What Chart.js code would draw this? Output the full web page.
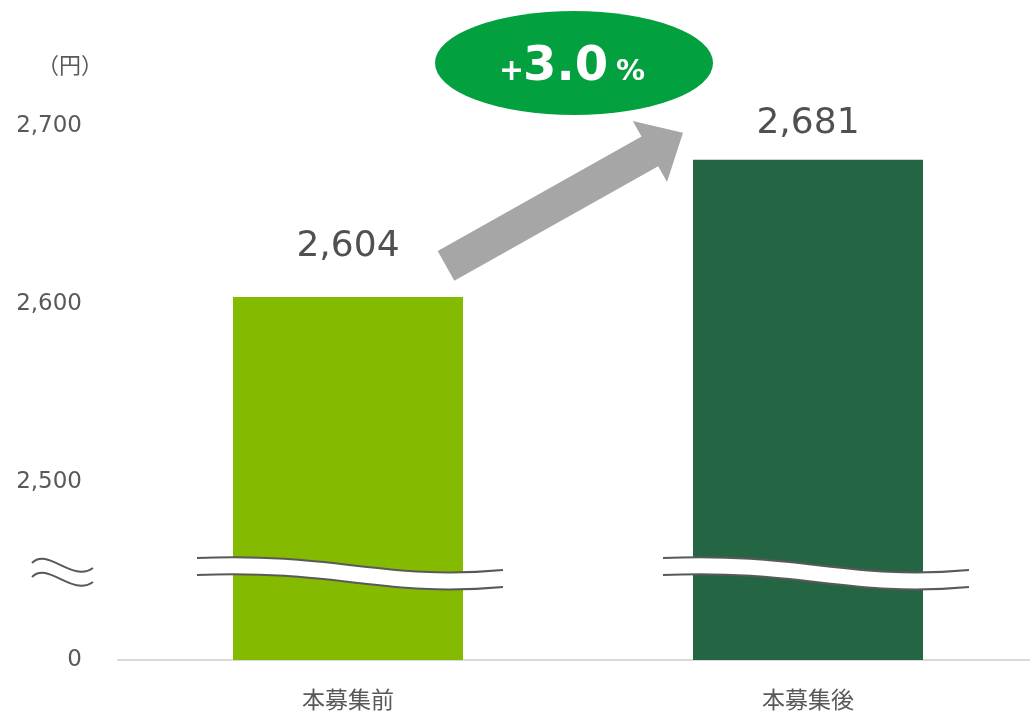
<!DOCTYPE html>
<html>
<head>
<meta charset="utf-8">
<script src="https://cdn.jsdelivr.net/npm/chart.js@4.4.1/dist/chart.umd.min.js"></script>
<style>
  html, body { margin: 0; padding: 0; background: #fff; overflow: hidden; }
  #wrap { width: 1040px; height: 711px; }
</style>
</head>
<body>
<div id="wrap"><canvas id="priceChart"></canvas></div>
<script>
// ---- data ----
const categories = ["本募集前", "本募集後"];
const prices     = [2604, 2681];
const barColors  = ["#84bb00", "#246543"];
const tickValues = [2400, 2500, 2600, 2700];   // 2400 stands in for 0 (broken axis)
const tickLabels = ["0", "2,500", "2,600", "2,700"];
const unitLabel  = "（円）";

const FONT = "'DejaVu Sans', 'Noto Sans CJK JP', sans-serif";
const TEXT = "#595959";
const BREAK_AT = 2450;          // value where the axis break is drawn
const labelLift = [41, 27];     // value label distance above bar top
const breakLeft = [151, 145];   // how far the break band starts left of bar centre

/* axis-break marks, arrow, growth badge, value labels */
const decorPlugin = {
    id: "decor",
    afterDatasetsDraw(chart) {
        const ctx = chart.ctx;
        const y = chart.scales.y;
        const bars = chart.getDatasetMeta(0).data;
        const by = y.getPixelForValue(BREAK_AT);

        ctx.save();

        // wavy white band across each bar
        bars.forEach(function (bar, i) {
            const x0 = bar.x - breakLeft[i], x1 = x0 + 306;
            const m = x0 + 151;
            const wave = function (off) {
                ctx.moveTo(x0, by - 13 + off);
                ctx.bezierCurveTo(m - 12, by - 19 + off, m + 36, by + 10 + off, x1, by - 1 + off);
            };
            ctx.beginPath();
            wave(0);
            ctx.lineTo(x1, by + 16);
            ctx.bezierCurveTo(m + 36, by + 27, m - 12, by - 2, x0, by + 4);
            ctx.closePath();
            ctx.fillStyle = "#fff";
            ctx.fill();

            ctx.strokeStyle = "#595959";
            ctx.lineWidth = 2;
            ctx.beginPath(); wave(0); ctx.stroke();
            ctx.beginPath(); wave(17); ctx.stroke();
        });

        // ≈ on the y axis
        ctx.strokeStyle = "#595959";
        ctx.lineWidth = 2;
        [0, 14].forEach(function (off) {
            ctx.beginPath();
            ctx.moveTo(32, by - 8 + off);
            ctx.bezierCurveTo(48, by - 24 + off, 72, by + 12 + off, 93, by - 3 + off);
            ctx.stroke();
        });

        // value labels
        ctx.fillStyle = "#505050";
        ctx.font = "36px " + FONT;
        ctx.textAlign = "center";
        ctx.textBaseline = "alphabetic";
        bars.forEach(function (bar, i) {
            ctx.fillText(prices[i].toLocaleString("en-US"), bar.x, bar.y - labelLift[i]);
        });

        // arrow from first to second bar
        const tail = { x: bars[0].x + 98, y: bars[0].y - 31 };
        const tip  = { x: bars[1].x - 125, y: bars[1].y - 27 };
        const dx = tip.x - tail.x, dy = tip.y - tail.y;
        const len = Math.hypot(dx, dy);
        const ux = dx / len, uy = dy / len, nx = -uy, ny = ux;
        const headLen = 38, bodyW = 17, headW = 35;
        const hx = tip.x - ux * headLen, hy = tip.y - uy * headLen;
        ctx.fillStyle = "#a6a6a6";
        ctx.beginPath();
        ctx.moveTo(tail.x + nx * bodyW, tail.y + ny * bodyW);
        ctx.lineTo(hx + nx * bodyW, hy + ny * bodyW);
        ctx.lineTo(hx + nx * headW, hy + ny * headW);
        ctx.lineTo(tip.x, tip.y);
        ctx.lineTo(hx - nx * headW, hy - ny * headW);
        ctx.lineTo(hx - nx * bodyW, hy - ny * bodyW);
        ctx.lineTo(tail.x - nx * bodyW, tail.y - ny * bodyW);
        ctx.closePath();
        ctx.fill();

        // growth badge
        const cx = (bars[0].x + bars[1].x) / 2 - 4, cy = 63;
        ctx.fillStyle = "#03a040";
        ctx.beginPath();
        ctx.ellipse(cx, cy, 139, 52, 0, 0, Math.PI * 2);
        ctx.fill();

        const pct = ((prices[1] / prices[0] - 1) * 100).toFixed(1);
        const parts = [
            { t: "+", f: "bold 30px " + FONT, gap: -1 },
            { t: pct, f: "bold 48px " + FONT, gap: 8 },
            { t: "%", f: "bold 29px " + FONT, gap: 0 }
        ];
        let total = 0;
        parts.forEach(function (p) { ctx.font = p.f; p.w = ctx.measureText(p.t).width; total += p.w + p.gap; });
        let x = cx - total / 2 - 2;
        ctx.fillStyle = "#fff";
        ctx.textAlign = "left";
        parts.forEach(function (p) {
            ctx.font = p.f;
            ctx.fillText(p.t, x, cy + 17);
            x += p.w + p.gap;
        });

        // unit label
        ctx.fillStyle = TEXT;
        ctx.font = "22px " + FONT;
        ctx.textAlign = "center";
        ctx.textBaseline = "middle";
        ctx.fillText(unitLabel, 70, 67);

        ctx.restore();
    }
};

new Chart(document.getElementById("priceChart"), {
    type: "bar",
    data: {
        labels: categories,
        datasets: [{
            data: prices,
            backgroundColor: barColors,
            barPercentage: 0.5,
            categoryPercentage: 1
        }]
    },
    options: {
        responsive: true,
        maintainAspectRatio: false,
        animation: false,
        layout: { padding: { top: 126, right: 2, bottom: 0, left: 0 } },
        plugins: { legend: { display: false }, tooltip: { enabled: false } },
        scales: {
            x: {
                grid: { display: false, drawTicks: false },
                border: { display: true, color: "#d9d9d9", width: 2 },
                ticks: { color: TEXT, font: { family: FONT, size: 23 }, padding: 28 },
                afterFit: function (s) { s.height = 51; }
            },
            y: {
                min: tickValues[0],
                max: tickValues[tickValues.length - 1],
                grid: { display: false, drawTicks: false },
                border: { display: false },
                afterBuildTicks: function (s) { s.ticks = tickValues.map(v => ({ value: v })); },
                ticks: {
                    color: TEXT,
                    font: { family: FONT, size: 23 },
                    padding: 36,
                    callback: function (v) { return tickLabels[tickValues.indexOf(v)]; }
                },
                afterFit: function (s) { s.width = 118; }
            }
        }
    },
    plugins: [decorPlugin]
});
</script>
</body>
</html>
